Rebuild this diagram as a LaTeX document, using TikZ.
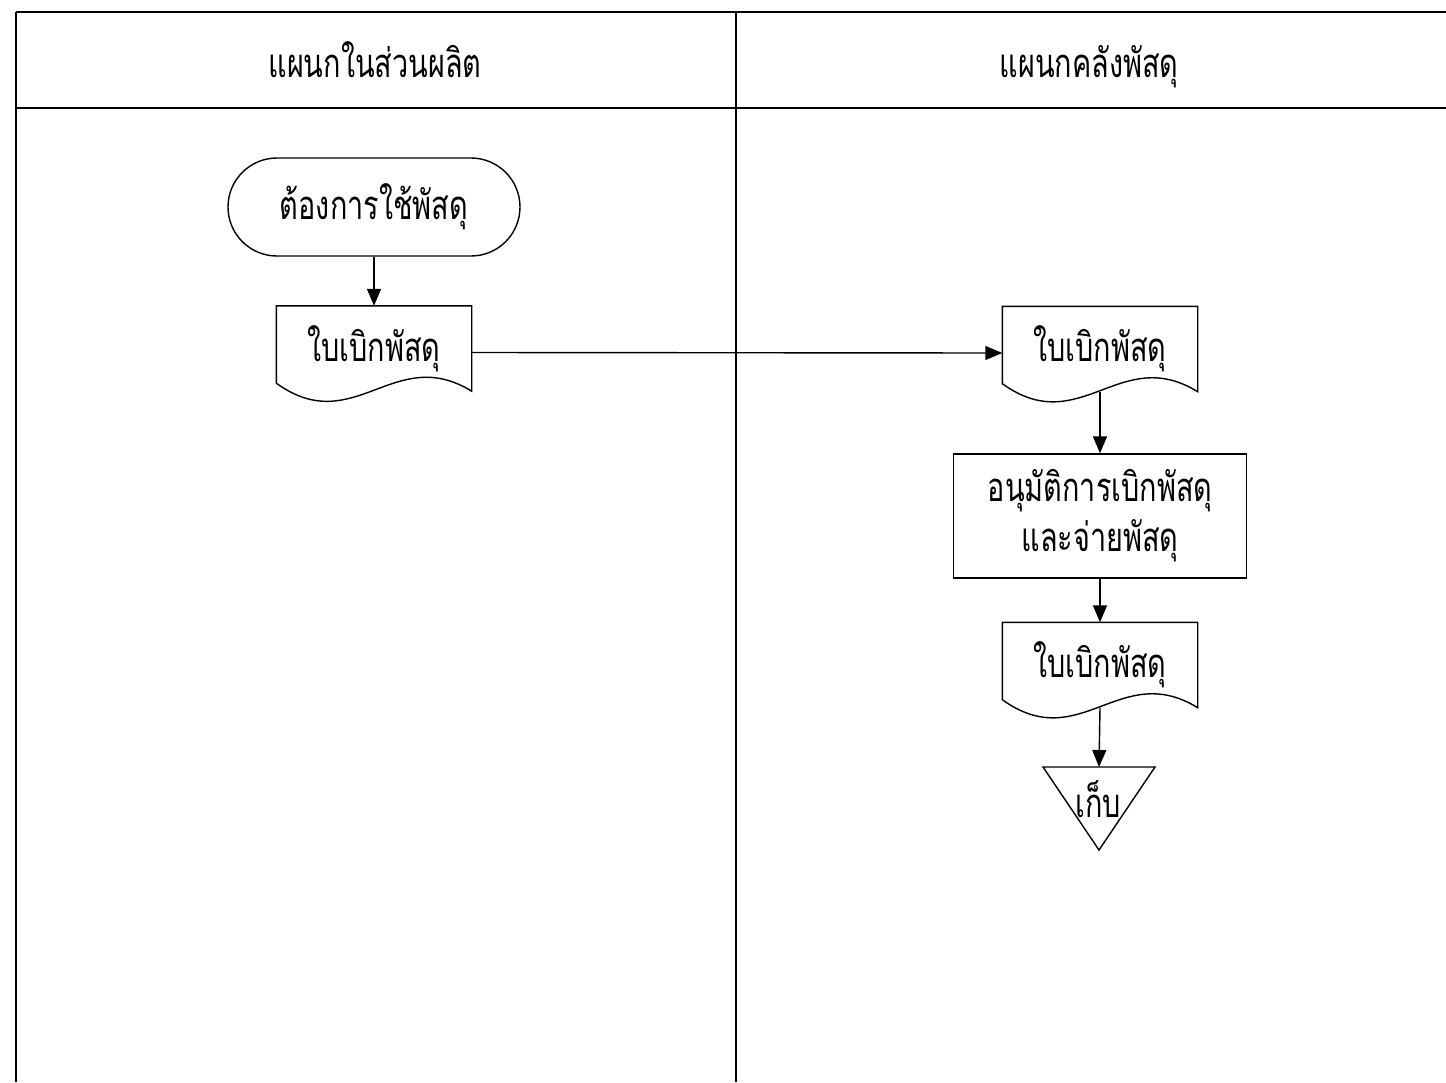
\documentclass[tikz,border=0pt]{standalone}
\usepackage{fontspec}
\newfontfamily\thaifont[Script=Thai,FakeStretch=0.72]{Loma}
\usetikzlibrary{arrows.meta}

\tikzset{
  lane/.style={line width=1.8pt},
  outline/.style={line width=1.4pt},
  label/.style={font=\thaifont\fontsize{40}{50}\selectfont, inner sep=0pt},
  heading/.style={label, anchor=base},
  terminal/.style={label, draw, outline, rounded corners=49pt, minimum width=292pt, minimum height=98pt},
  process/.style={label, draw, outline, minimum width=293pt, minimum height=124pt, align=center},
  docbox/.style={label, minimum width=195pt, minimum height=85pt},
  flow/.style={outline, -{Triangle[length=17pt,width=14pt]}},
}

% document symbol: flat top, wavy bottom edge
\newcommand\docoutline[1]{%
  \draw[outline] (#1.north west) -- (#1.north east) -- (#1.south east)
    .. controls ([shift={(-78,-48)}]#1.south east) and ([shift={(78,48)}]#1.south west)
    .. ([shift={(0,-8)}]#1.south west) -- cycle;}

\begin{document}
\begin{tikzpicture}[x=1pt,y=-1pt]
  \useasboundingbox[fill=white] (0,0) rectangle (1446,1082);

  % swimlane frame
  \coordinate (tl) at (16,12);
  \coordinate (tr) at (1446,12);
  \coordinate (hl) at (16,108);
  \coordinate (hr) at (1446,108);
  \coordinate (bl) at (16,1082);
  \coordinate (mt) at (736,12);
  \coordinate (mb) at (736,1082);
  \draw[lane] (tl) -- (tr);
  \draw[lane] (hl) -- (hr);
  \draw[lane] (tl) -- (bl);
  \draw[lane] (mt) -- (mb);

  % lane headings, sharing one baseline
  \node[heading] (h1) at (375,77) {แผนกในส่วนผลิต};
  \node[heading] (h2) at (1089,77) {แผนกคลังพัสดุ};

  % production lane
  \node[terminal] (start) at (374,207) {ต้องการใช้พัสดุ};
  \node[docbox] (d1) at (374,348.5) {ใบเบิกพัสดุ};
  \docoutline{d1}

  % store lane
  \node[docbox] (d2) at (1100,349) {ใบเบิกพัสดุ};
  \docoutline{d2}
  \node[process] (appr) at (1100,516) {อนุมัติการเบิกพัสดุ\\และจ่ายพัสดุ};
  \node[docbox] (d3) at (1100,665) {ใบเบิกพัสดุ};
  \docoutline{d3}
  \coordinate (ta) at (1043,767);
  \coordinate (tb) at (1155,767);
  \coordinate (tc) at (1099,850);
  \draw[outline] (ta) -- (tb) -- (tc) -- cycle;
  \coordinate (file) at (1099,767);
  \node[label] (keep) at (1098,799) {เก็บ};

  % connectors
  \draw[flow] (start) -- (d1);
  \draw[flow] ([yshift=-4pt]d1.east) -- ([yshift=-4pt]d2.west);
  \draw[flow] (d2.south) -- (appr);
  \draw[flow] (appr) -- (d3);
  \draw[flow] (d3.south) -- (file);
\end{tikzpicture}
\end{document}
